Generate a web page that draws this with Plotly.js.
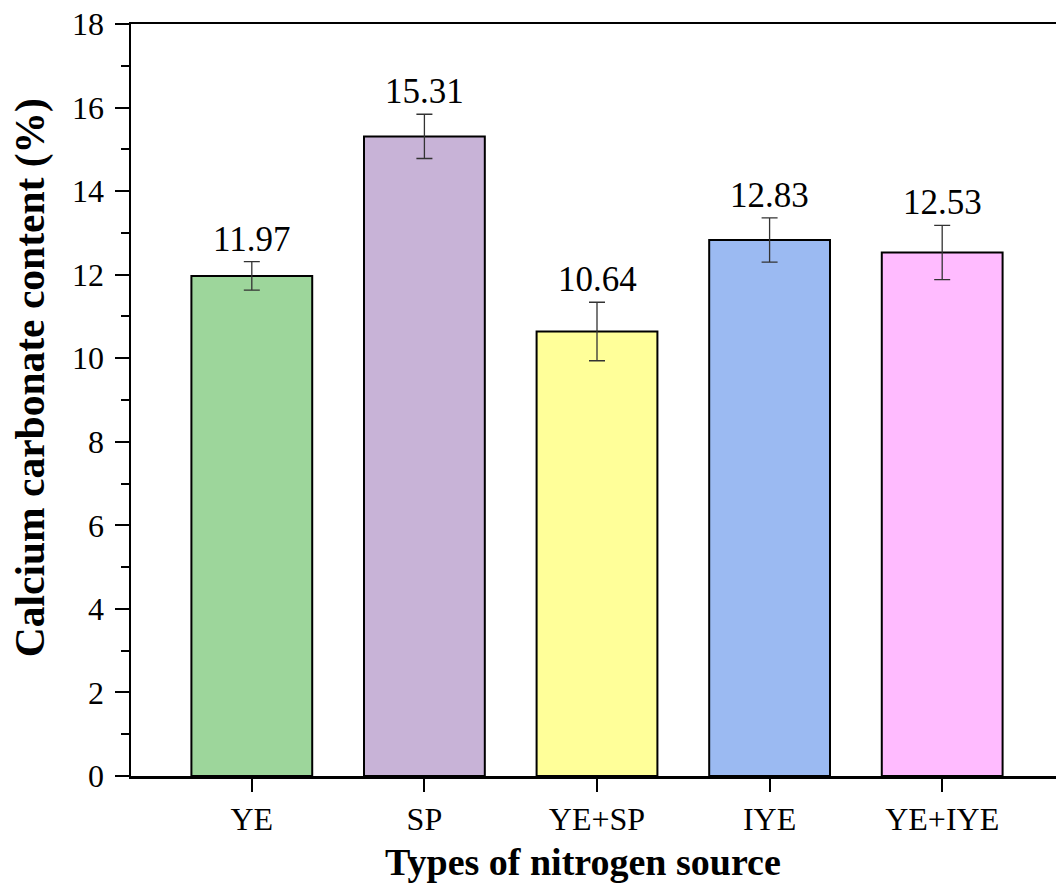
<!DOCTYPE html>
<html>
<head>
<meta charset="utf-8">
<script src="https://cdn.plot.ly/plotly-3.0.1.min.js"></script>
<style>
html, body { margin: 0; padding: 0; overflow: hidden; background: #fff; }
#chart { width: 1080px; height: 895px; }
</style>
</head>
<body>
<div id="chart"></div>
<script>
const categories = ['YE', 'SP', 'YE+SP', 'IYE', 'YE+IYE'];
const values = [11.97, 15.31, 10.64, 12.83, 12.53];
const errors = [0.34, 0.53, 0.70, 0.53, 0.65];
const barColors = ['#9dd69b', '#c8b3d7', '#ffff99', '#9bbaf2', '#ffbbff'];
const yTickVals = [0, 2, 4, 6, 8, 10, 12, 14, 16, 18];

const serif = 'Liberation Serif';

const trace = {
  type: 'bar',
  x: categories,
  y: values,
  width: 0.7,
  marker: { color: barColors, line: { color: '#000', width: 2 } },
  error_y: { type: 'data', array: errors, visible: true, color: '#333', thickness: 1.3, width: 8 },
  hoverinfo: 'none'
};

const annotations = categories.map((c, i) => ({
  x: c, y: values[i] + errors[i], xref: 'x', yref: 'y',
  text: values[i].toFixed(2), showarrow: false,
  yanchor: 'bottom', yshift: 1,
  font: { family: serif, size: 35, color: '#000' }
}));

annotations.push({
  xref: 'paper', yref: 'paper', x: 0.485, y: 0, yanchor: 'middle', xanchor: 'center',
  yshift: -86, showarrow: false,
  text: '<b>Types of nitrogen source</b>',
  font: { family: serif, size: 38, color: '#000' }
});
annotations.push({
  xref: 'paper', yref: 'paper', x: 0, y: 0.529, xanchor: 'center', yanchor: 'middle',
  xshift: -101, textangle: -90, showarrow: false,
  text: '<b>Calcium carbonate content (%)</b>',
  font: { family: serif, size: 41.5, color: '#000' }
});

const layout = {
  width: 1080, height: 895,
  margin: { l: 131, r: 17, t: 24, b: 119 },
  paper_bgcolor: '#fff', plot_bgcolor: '#fff',
  font: { family: serif, color: '#000' },
  showlegend: false,
  bargap: 0.3,
  xaxis: {
    type: 'category', range: [-0.7, 4.7],
    showline: true, linecolor: '#000', linewidth: 2.5, mirror: true,
    ticks: 'outside', ticklen: 13, tickwidth: 2, tickcolor: '#000',
    showgrid: false, zeroline: false,
    tickfont: { family: serif, size: 32, color: '#000' }
  },
  yaxis: {
    range: [0, 18], tickvals: yTickVals, ticktext: yTickVals.map(String),
    showline: true, linecolor: '#000', linewidth: 2.5,
    ticks: 'outside', ticklen: 14, tickwidth: 2, tickcolor: '#000',
    ticklabelstandoff: 4,
    minor: { dtick: 1, tick0: 0, ticks: 'outside', ticklen: 8, tickwidth: 2, tickcolor: '#000' },
    showgrid: false, zeroline: false,
    tickfont: { family: serif, size: 32, color: '#000' }
  },
  annotations: annotations
};

Plotly.newPlot('chart', [trace], layout, { displayModeBar: false, staticPlot: true });
</script>
</body>
</html>
